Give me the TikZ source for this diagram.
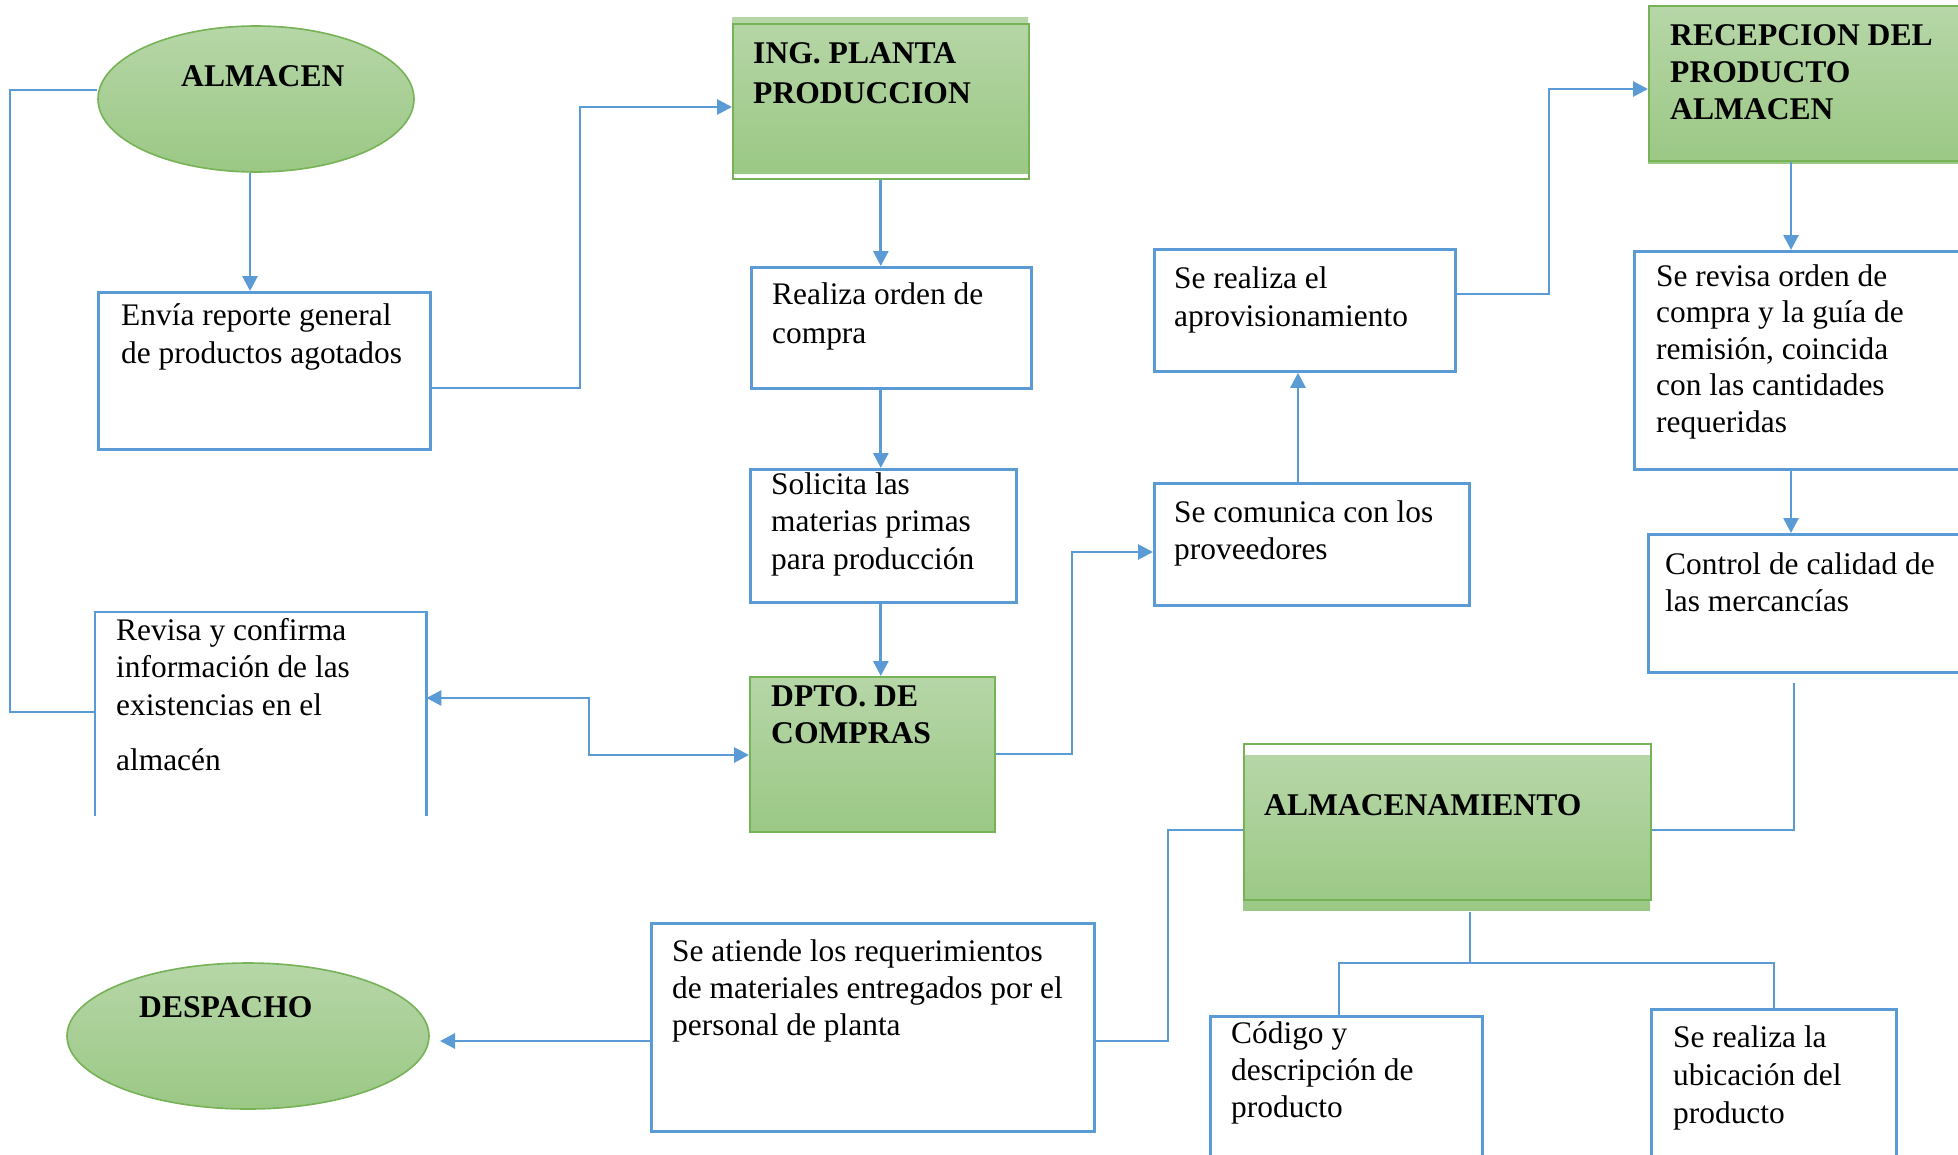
\documentclass[tikz,border=0pt]{standalone}
\usepackage{fontspec}
\setmainfont{Liberation Serif}
\usetikzlibrary{shapes.geometric,arrows.meta}
\definecolor{bl}{RGB}{91,155,213}
\definecolor{gB}{RGB}{118,178,86}
\definecolor{gT}{RGB}{182,214,167}
\definecolor{gD}{RGB}{155,200,133}
\newcommand\tl[1]{\begin{tabular}[t]{@{}l@{}}#1\end{tabular}}
\begin{document}
\begin{tikzpicture}[x=1pt,y=-1pt,
  wbox/.style={rectangle,draw=bl,line width=2.8pt,inner sep=0,anchor=north west},
  obox/.style={rectangle,draw=none,inner sep=0,anchor=north west},
  gbox/.style={rectangle,draw=gB,line width=1.6pt,inner sep=0,anchor=north west},
  gfill/.style={top color=gT,bottom color=gD,draw=none},
  gell/.style={ellipse,draw=gB,line width=1.6pt,top color=gT,bottom color=gD,inner sep=0},
  txt/.style={inner sep=0,anchor=base west,font=\fontsize{31.4}{38}\selectfont},
  htxt/.style={inner sep=0,anchor=base west,font=\fontsize{31.6}{38}\selectfont\bfseries},
  arr/.style={draw=bl,line width=2.8pt,-{Triangle[length=15pt,width=15pt]}},
  arrb/.style={draw=bl,line width=2.8pt,{Triangle[length=15pt,width=15pt]}-{Triangle[length=15pt,width=15pt]}},
  thinl/.style={draw=bl,line width=1.4pt}]
\useasboundingbox (0,0) rectangle (1958,1154);
\clip (0,0) rectangle (1958,1154);
\fill[white] (0,0) rectangle (1958,1154);

% green shapes
\node[gell,minimum width=316,minimum height=146] (alm) at (256,99) {};
\fill[gfill] (732,17) rectangle (1028,173);
\node[gbox,minimum width=296,minimum height=155] (ing) at (732,23) {};
\node[gbox,gfill,draw=gB,minimum width=245,minimum height=155] (dpto) at (749,676) {};
\fill[gfill] (1648,7) rectangle (1980,163);
\node[gbox,minimum width=335,minimum height=155] (rec) at (1648,5) {};
\fill[gfill] (1243,755) rectangle (1650,910);
\node[gbox,minimum width=407,minimum height=156] (almn) at (1243,743) {};
\node[gell,minimum width=362,minimum height=146] (desp) at (248,1036) {};

% white boxes
\node[wbox,minimum width=332,minimum height=157] (env) at (97,291) {};
\node[wbox,minimum width=280,minimum height=121] (rea) at (750,266) {};
\node[wbox,minimum width=266,minimum height=133] (sol) at (749,468) {};
\node[obox,minimum width=331,minimum height=204] (rev) at (95,612) {};
\draw[draw=bl,line width=2.8pt] (rev.south west) -- (rev.north west) -- (rev.north east) -- (rev.south east);
\node[wbox,minimum width=301,minimum height=122] (apr) at (1153,248) {};
\node[wbox,minimum width=315,minimum height=122] (com) at (1153,482) {};
\node[wbox,minimum width=345,minimum height=218] (srev) at (1633,250) {};
\node[wbox,minimum width=335,minimum height=138] (ctrl) at (1647,533) {};
\node[wbox,minimum width=443,minimum height=208] (aten) at (650,922) {};
\node[wbox,minimum width=272,minimum height=170] (cod) at (1209,1015) {};
\node[wbox,minimum width=245,minimum height=175] (ubi) at (1650,1008) {};

% texts
\node[htxt] (talm) at (181,86) {ALMACEN};
\node[htxt,font=\fontsize{31.6}{40}\selectfont\bfseries] (ting) at (753,63) {\tl{ING. PLANTA\\PRODUCCION}};
\node[txt] (tenv) at (121,325) {\tl{Envía reporte general\\de productos agotados}};
\node[txt,font=\fontsize{31.4}{39}\selectfont] (trea) at (772,304) {\tl{Realiza orden de\\compra}};
\node[txt,font=\fontsize{31.4}{37.5}\selectfont] (tsol) at (771,494) {\tl{Solicita las\\materias primas\\para producción}};
\node[htxt,font=\fontsize{31.6}{37}\selectfont\bfseries] (tdpto) at (771,706) {\tl{DPTO. DE\\COMPRAS}};
\node[txt,font=\fontsize{31.4}{37.5}\selectfont] (trev) at (116,640) {\tl{Revisa y confirma\\información de las\\existencias en el\\[18pt]almacén}};
\node[txt] (tapr) at (1174,288) {\tl{Se realiza el\\aprovisionamiento}};
\node[txt,font=\fontsize{31.4}{37}\selectfont] (tcom) at (1174,522) {\tl{Se comunica con los\\proveedores}};
\node[htxt,font=\fontsize{31.6}{37}\selectfont\bfseries] (trec) at (1670,45) {\tl{RECEPCION DEL\\PRODUCTO\\ALMACEN}};
\node[txt,font=\fontsize{31.4}{36.5}\selectfont] (tsrev) at (1656,286) {\tl{Se revisa orden de\\compra y la guía de\\remisión, coincida\\con las cantidades\\requeridas}};
\node[txt,font=\fontsize{31.4}{37}\selectfont] (tctrl) at (1665,574) {\tl{Control de calidad de\\las mercancías}};
\node[htxt] (talmn) at (1264,815) {ALMACENAMIENTO};
\node[txt,font=\fontsize{31.4}{37}\selectfont] (taten) at (672,961) {\tl{Se atiende los requerimientos\\de materiales entregados por el\\personal de planta}};
\node[htxt] (tdesp) at (139,1017) {DESPACHO};
\node[txt,font=\fontsize{31.4}{37}\selectfont] (tcod) at (1231,1043) {\tl{Código y\\descripción de\\producto}};
\node[txt] (tubi) at (1673,1047) {\tl{Se realiza la\\ubicación del\\producto}};

% helper coordinates
\coordinate (a1) at (250,0);
\coordinate (b1) at (580,388);
\coordinate (b2) at (580,107);
\coordinate (f1) at (589,698);
\coordinate (f2) at (589,755);
\coordinate (g1) at (1072,754);
\coordinate (g2) at (1072,552);
\coordinate (h1) at (1298,0);
\coordinate (i1) at (1549,294);
\coordinate (i2) at (1549,89);
\coordinate (j1) at (1791,0);
\coordinate (l1) at (1794,683);
\coordinate (l2) at (1794,830);
\coordinate (m1) at (1168,830);
\coordinate (m2) at (1168,1041);
\coordinate (n1) at (440,1041);
\coordinate (o1) at (1470,963);
\coordinate (o2) at (1339,963);
\coordinate (o3) at (1774,963);
\coordinate (p1) at (10,90);
\coordinate (p2) at (10,712);

% connectors
\draw[arr] (alm.south -| a1) -- (env.north -| a1);
\draw[arr] (env.east |- b1) -- (b1) -- (b2) -- (ing.west |- b2);
\draw[arr] (ing.south) -- (ing.south |- rea.north);
\draw[arr] (rea.south -| ing.south) -- (sol.north -| ing.south);
\draw[arr] (sol.south -| ing.south) -- (dpto.north -| ing.south);
\draw[arrb] (rev.east |- f1) -- (f1) -- (f2) -- (dpto.west |- f2);
\draw[arr] (dpto.east |- g1) -- (g1) -- (g2) -- (com.west |- g2);
\draw[arr] (com.north -| h1) -- (apr.south -| h1);
\draw[arr] (apr.east |- i1) -- (i1) -- (i2) -- (rec.west |- i2);
\draw[arr] (rec.south -| j1) -- (srev.north -| j1);
\draw[arr] (srev.south -| j1) -- (ctrl.north -| j1);
\draw[thinl] (l1) -- (l2) -- (almn.east |- l2);
\draw[thinl] (almn.west |- m1) -- (m1) -- (m2) -- (aten.east |- m2);
\draw[arr] (aten.west |- n1) -- (n1);
\draw[thinl] ([yshift=-11pt]almn.south -| o1) -- (o1);
\draw[thinl] (cod.north -| o2) -- (o2) -- (o3) -- (ubi.north -| o3);
\draw[thinl] (alm.west |- p1) -- (p1) -- (p2) -- (rev.west |- p2);
\end{tikzpicture}
\end{document}
